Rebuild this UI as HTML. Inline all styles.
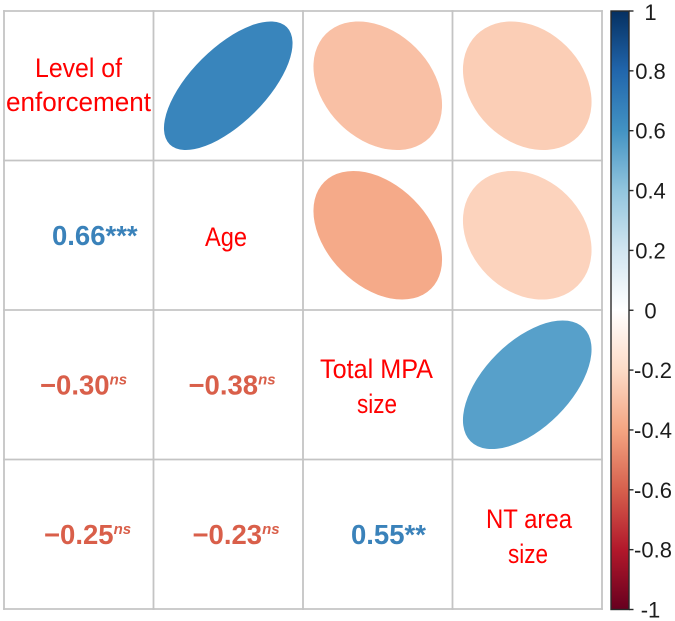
<!DOCTYPE html>
<html lang="en">
<head>
<meta charset="utf-8">
<title>Correlation matrix</title>
<style>
html,body{margin:0;padding:0;background:#fff;width:675px;height:621px;overflow:hidden}
svg{display:block;font-family:"Liberation Sans",sans-serif}
.var{fill:#ff0000;font-size:27px}
</style>
</head>
<body>
<svg id="chart" width="675" height="621" viewBox="0 0 675 621" xmlns="http://www.w3.org/2000/svg">
<defs>
<linearGradient id="cbar-grad" x1="0" y1="1" x2="0" y2="0"></linearGradient>
</defs>
<g id="grid"></g>
<g id="ellipses"></g>
<g id="values"></g>
<g>
<text class="var" x="35" y="77" textLength="87" lengthAdjust="spacingAndGlyphs">Level of</text>
<text class="var" x="6" y="111" textLength="145" lengthAdjust="spacingAndGlyphs">enforcement</text>
<text class="var" x="205" y="246" textLength="42" lengthAdjust="spacingAndGlyphs">Age</text>
<text class="var" x="320" y="378" textLength="113" lengthAdjust="spacingAndGlyphs">Total MPA</text>
<text class="var" x="357" y="413" textLength="40" lengthAdjust="spacingAndGlyphs">size</text>
<text class="var" x="486" y="528" textLength="86" lengthAdjust="spacingAndGlyphs">NT area</text>
<text class="var" x="508" y="563" textLength="40" lengthAdjust="spacingAndGlyphs">size</text>
</g>
<g id="colorbar"></g>
</svg>
<script>
const variables = ["Level of enforcement", "Age", "Total MPA size", "NT area size"];
const pairRows = [0, 0, 0, 1, 1, 2];
const pairCols = [1, 2, 3, 2, 3, 3];
const correlations = [0.66, -0.30, -0.25, -0.38, -0.23, 0.55];
const significance = ["***", "ns", "ns", "ns", "ns", "**"];
const colorbarTicks = [1, 0.8, 0.6, 0.4, 0.2, 0, -0.2, -0.4, -0.6, -0.8, -1];
const paletteStops = ["#67001F", "#B2182B", "#D6604D", "#F4A582", "#FDDBC7", "#FFFFFF", "#D1E5F0", "#92C5DE", "#4393C3", "#2166AC", "#053061"];

const NS = "http://www.w3.org/2000/svg";
function make(tag, attrs, parent) {
  const el = document.createElementNS(NS, tag);
  for (const k in attrs) el.setAttribute(k, attrs[k]);
  parent.appendChild(el);
  return el;
}
const gridX0 = 4, gridY0 = 11, cellW = 149.5, cellH = 149.5;
const xOf = c => gridX0 + c * cellW;
const yOf = r => gridY0 + r * cellH;
const rowsN = variables.length;

function hexToRgb(h) {
  return [1, 3, 5].map(i => parseInt(h.substr(i, 2), 16));
}
function colorOf(v) {
  const t = (v + 1) / 2 * (paletteStops.length - 1);
  const i = Math.min(Math.floor(t), paletteStops.length - 2);
  const f = t - i;
  const a = hexToRgb(paletteStops[i]), b = hexToRgb(paletteStops[i + 1]);
  return "rgb(" + a.map((x, k) => Math.round(x + (b[k] - x) * f)).join(",") + ")";
}

/* grid */
const gridG = document.getElementById("grid");
for (let i = 0; i <= rowsN; i++) {
  const h = make("line", {x1: gridX0 - 0.9, x2: xOf(rowsN) + 0.9, y1: yOf(i), y2: yOf(i), stroke: "#c4c4c4", "stroke-width": 1.8}, gridG);
  
  
  const v = make("line", {x1: xOf(i), x2: xOf(i), y1: gridY0 - 0.9, y2: yOf(rowsN) + 0.9, stroke: "#c4c4c4", "stroke-width": 1.8}, gridG);
  
  
}

/* ellipses (upper triangle) and printed values (lower triangle) */
const ellipseG = document.getElementById("ellipses");
const valueG = document.getElementById("values");
const ellipseRadius = 64.3;
const posBlue = "#3a82ba", negRed = "#d95f4a";
const textNudge = [4, 3, 7, 2, 6, 4];
correlations.forEach((r, i) => {
  const row = pairRows[i], col = pairCols[i];
  const cx = xOf(col) + cellW / 2, cy = yOf(row) + cellH / 2;
  const e = make("ellipse", {
    cx: cx, cy: cy,
    rx: ellipseRadius * Math.sqrt(1 + r),
    ry: ellipseRadius * Math.sqrt(1 - r),
    transform: "rotate(-45 " + cx + " " + cy + ")",
    fill: colorOf(r)
  }, ellipseG);
  
  

  const tx = xOf(row) + (r < 0 ? 33 : 44) + textNudge[i];
  const ty = yOf(col) + cellH / 2 + 9.5;
  const t = make("text", {x: tx, y: ty, fill: r < 0 ? negRed : posBlue, "font-size": 27.5, "font-weight": "bold"}, valueG);
  
  
  const num = document.createElementNS(NS, "tspan");
  num.textContent = (r < 0 ? "\u2212" : "") + Math.abs(r).toFixed(2);
  t.appendChild(num);
  const sig = document.createElementNS(NS, "tspan");
  sig.textContent = significance[i];
  if (significance[i] === "ns") {
    sig.setAttribute("font-size", "15");
    sig.setAttribute("font-style", "italic");
    sig.setAttribute("dy", "-10");
  }
  t.appendChild(sig);
});

/* colorbar */
const grad = document.getElementById("cbar-grad");
paletteStops.forEach((c, i) => {
  make("stop", {offset: i / (paletteStops.length - 1), "stop-color": c}, grad);
});
const cbarG = document.getElementById("colorbar");
const cbX = 611, cbW = 18, cbTop = 11, cbBottom = 609.5;
const cbY = v => cbTop + (1 - v) / 2 * (cbBottom - cbTop);
const cbRect = make("rect", {x: cbX, y: cbTop, width: cbW, height: cbBottom - cbTop, fill: "url(#cbar-grad)", stroke: "#2a2a2a", "stroke-width": 1.4}, cbarG);


colorbarTicks.forEach(v => {
  const y = cbY(v);
  const tk = make("line", {x1: cbX + cbW, x2: cbX + cbW + 4.5, y1: y, y2: y, stroke: "#2a2a2a", "stroke-width": 1.4}, cbarG);
  
  
  const isWhole = Number.isInteger(v);
  const lx = (v < 0 && !isWhole) ? 653 : 650.5;
  const lb = make("text", {x: lx, y: Math.max(y + 8, 20), "text-anchor": "middle", "font-size": 22, fill: "#1c1c1c"}, cbarG);
  
  
  lb.textContent = String(v);
});
</script>
</body>
</html>
